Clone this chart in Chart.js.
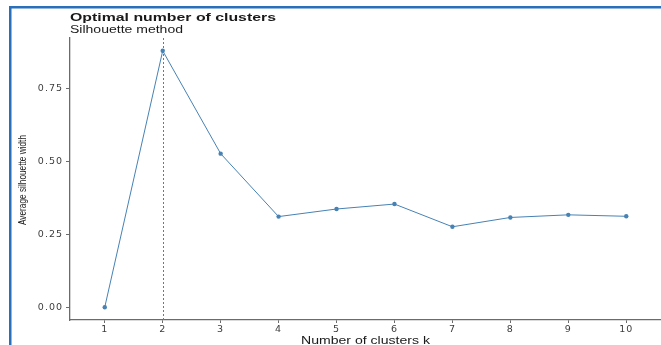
<!DOCTYPE html>
<html>
<head>
<meta charset="utf-8">
<script src="https://cdn.jsdelivr.net/npm/chart.js@4/dist/chart.umd.min.js"></script>
<style>
  html, body { margin: 0; padding: 0; background: #ffffff; overflow: hidden; }
  #c { display: block; }
</style>
</head>
<body>
<canvas id="c" width="661" height="345"></canvas>
<script>
// ---- data ----
const kValues = [1, 2, 3, 4, 5, 6, 7, 8, 9, 10];
const silhouetteWidth = [0.000, 0.880, 0.527, 0.311, 0.337, 0.354, 0.276, 0.308, 0.317, 0.312];
const yTickValues = [0.00, 0.25, 0.50, 0.75];
const optimalK = 2;
const titleText = "Optimal number of clusters";
const subtitleText = "Silhouette method";
const xTitleText = "Number of clusters k";
const yTitleText = "Average silhouette width";

const lineColor = "#4682b4";
const axisColor = "#6b6b6b";
const tickTextColor = "#3d3d3d";

const points = kValues.map((k, i) => ({ x: k, y: silhouetteWidth[i] }));

function drawScaledText(ctx, text, font, color, x, y, targetWidth, align) {
  ctx.save();
  ctx.letterSpacing = "0px";
  ctx.font = font;
  ctx.fillStyle = color;
  ctx.textBaseline = "alphabetic";
  const w = ctx.measureText(text).width;
  const sx = targetWidth / w;
  ctx.translate(x, y);
  ctx.scale(sx, 1);
  ctx.textAlign = align;
  ctx.fillText(text, 0, 0);
  ctx.restore();
}

const decorPlugin = {
  id: "decor",
  beforeDraw(chart) {
    chart.ctx.letterSpacing = "1px";
  },
  beforeDatasetsDraw(chart) {
    const { ctx, chartArea, scales } = chart;
    const x = scales.x.getPixelForValue(optimalK);
    ctx.save();
    ctx.strokeStyle = lineColor;
    ctx.lineWidth = 1;
    ctx.setLineDash([2, 2]);
    ctx.beginPath();
    ctx.moveTo(Math.round(x) + 0.5, chartArea.top);
    ctx.lineTo(Math.round(x) + 0.5, chartArea.bottom);
    ctx.stroke();
    ctx.restore();
  },
  afterDraw(chart) {
    const { ctx, chartArea } = chart;
    ctx.save();
    // keep right edge clean (no frame on the right side)
    ctx.fillStyle = "#ffffff";
    ctx.fillRect(658.5, 9, 2.5, chartArea.bottom - 10);
    ctx.fillRect(658.5, chartArea.bottom + 1.5, 2.5, 345 - chartArea.bottom);
    // frame (blue border on top and left)
    ctx.fillStyle = "#2a6fba";
    ctx.fillRect(9, 6, 2.5, 339);
    ctx.fillRect(9, 6, 652, 2.5);
    ctx.restore();

    // titles
    drawScaledText(ctx, titleText, "bold 11.5px 'Liberation Sans', Arial, sans-serif", "#1a1a1a",
      chartArea.left, 21, 206, "left");
    drawScaledText(ctx, subtitleText, "10px 'Liberation Sans', Arial, sans-serif", "#1a1a1a",
      chartArea.left, 33, 113, "left");
    // x axis title
    const cx = (chartArea.left + chartArea.right) / 2;
    drawScaledText(ctx, xTitleText, "10px 'Liberation Sans', Arial, sans-serif", "#1a1a1a",
      cx, 343.5, 129, "center");

    // y axis title (rotated)
    ctx.save();
    ctx.letterSpacing = "0px";
    ctx.font = "8.5px 'Liberation Sans', Arial, sans-serif";
    ctx.fillStyle = "#1a1a1a";
    const w = ctx.measureText(yTitleText).width;
    const cy = (chartArea.top + chartArea.bottom) / 2;
    ctx.translate(26, cy + 1);
    ctx.rotate(-Math.PI / 2);
    ctx.scale(90 / w, 1.35);
    ctx.textAlign = "center";
    ctx.textBaseline = "alphabetic";
    ctx.fillText(yTitleText, 0, 0);
    ctx.restore();
  }
};

new Chart(document.getElementById("c"), {
  type: "line",
  data: {
    datasets: [{
      data: points,
      borderColor: lineColor,
      backgroundColor: lineColor,
      borderWidth: 1,
      pointRadius: 2.2,
      pointBorderWidth: 0,
      pointBackgroundColor: lineColor,
      tension: 0,
      fill: false,
      clip: false
    }]
  },
  options: {
    responsive: false,
    animation: false,
    devicePixelRatio: 1,
    layout: { autoPadding: false, padding: { top: 38, left: 0, right: 0, bottom: 0 } },
    plugins: {
      legend: { display: false },
      tooltip: { enabled: false },
      title: { display: false }
    },
    scales: {
      x: {
        type: "linear",
        min: 0.4,
        max: 10.6,
        afterBuildTicks(scale) { scale.ticks = kValues.map(v => ({ value: v })); },
        afterFit(scale) { scale.height = 25; scale.paddingLeft = 0; scale.paddingRight = 0; },
        grid: { display: true, drawOnChartArea: false, drawTicks: true, tickLength: 3, color: axisColor, lineWidth: 1 },
        border: { display: true, color: axisColor, width: 1.3 },
        ticks: {
          padding: 1,
          maxRotation: 0,
          autoSkip: false,
          color: tickTextColor,
          font: { family: "'DejaVu Sans', sans-serif", size: 9.5 },
          callback: (v) => String(v)
        }
      },
      y: {
        type: "linear",
        min: -0.044,
        max: 0.924,
        afterBuildTicks(scale) { scale.ticks = yTickValues.map(v => ({ value: v })); },
        afterFit(scale) { scale.width = 70; scale.paddingTop = 0; scale.paddingBottom = 0; },
        grid: { display: true, drawOnChartArea: false, drawTicks: true, tickLength: 4, color: axisColor, lineWidth: 1 },
        border: { display: true, color: axisColor, width: 1.3 },
        ticks: {
          padding: 3,
          color: tickTextColor,
          font: { family: "'DejaVu Sans', sans-serif", size: 9.5 },
          callback: (v) => Number(v).toFixed(2)
        }
      }
    }
  },
  plugins: [decorPlugin]
});
</script>
</body>
</html>
